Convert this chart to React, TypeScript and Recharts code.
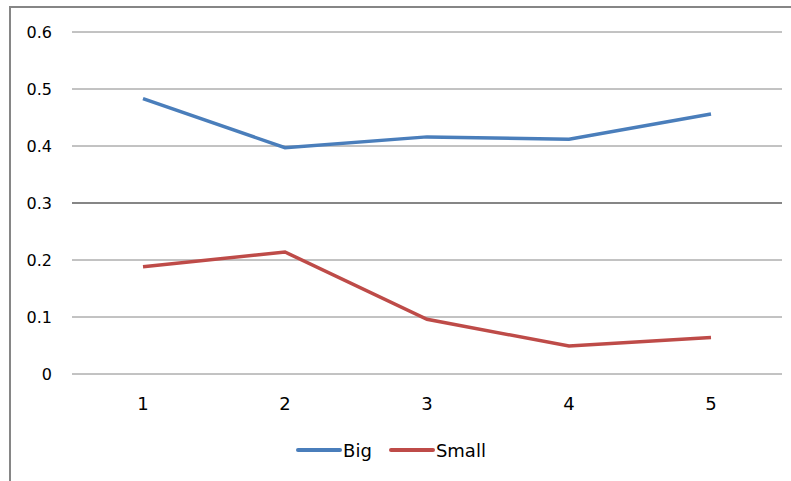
import React from 'react';
import { LineChart, Line, XAxis, YAxis, CartesianGrid, Legend, ReferenceLine } from 'recharts';

const categories = ['1', '2', '3', '4', '5'];
const bigValues = [0.483, 0.397, 0.416, 0.412, 0.456];
const smallValues = [0.188, 0.214, 0.096, 0.049, 0.064];
const yTicks = [0, 0.1, 0.2, 0.3, 0.4, 0.5, 0.6];

const data = categories.map((c, i) => ({ cat: c, Big: bigValues[i], Small: smallValues[i] }));

const FONT = '"DejaVu Sans", "Liberation Sans", sans-serif';
const GRID = '#868686';

const LegendContent = (props: any) => {
  const payload = props.payload || [];
  return (
    <div style={{ display: 'flex', justifyContent: 'center', alignItems: 'center', height: 30, fontFamily: FONT, fontSize: 18, color: '#000' }}>
      {payload.map((p: any, i: number) => (
        <div key={p.value} style={{ display: 'flex', alignItems: 'center', marginLeft: i === 0 ? 0 : 17 }}>
          <svg width={46} height={8} style={{ display: 'block' }}>
            <line x1={2} y1={4} x2={44} y2={4} stroke={p.color} strokeWidth={4} strokeLinecap="round" />
          </svg>
          <span style={{ marginLeft: 1 }}>{p.value}</span>
        </div>
      ))}
    </div>
  );
};

export default function App() {
  return (
    <div style={{ position: 'fixed', left: 0, top: 0, width: 791, height: 481, background: '#fff', overflow: 'hidden' }}>
      <LineChart
        width={791}
        height={481}
        data={data}
        margin={{ top: 32, right: 9, bottom: 16, left: 0 }}
        style={{ position: 'absolute', left: 0, top: 0 }}
      >
        <CartesianGrid vertical={false} stroke={GRID} strokeWidth={1} />
        <ReferenceLine y={0.3} stroke={GRID} strokeWidth={2} />
        <XAxis
          dataKey="cat"
          axisLine={false}
          tickLine={false}
          tickSize={0}
          tickMargin={23}
          height={61}
          padding={{ left: 71, right: 71 }}
          tick={{ fill: '#000', fontSize: 18, fontFamily: FONT }}
        />
        <YAxis
          domain={[0, 0.6]}
          ticks={yTicks}
          width={72}
          axisLine={false}
          tickLine={false}
          tickSize={0}
          tickMargin={20}
          tick={{ fill: '#000', fontSize: 16, fontFamily: FONT }}
        />
        <Legend verticalAlign="bottom" height={30} content={<LegendContent />} />
        <Line type="linear" dataKey="Big" stroke="#4A7EBB" strokeWidth={3.5} dot={false} isAnimationActive={false} />
        <Line type="linear" dataKey="Small" stroke="#BE4B48" strokeWidth={3.5} dot={false} isAnimationActive={false} />
      </LineChart>
      {/* outer frame: left and top edges */}
      <div style={{ position: 'absolute', left: 9, top: 6, width: 782, height: 2, background: GRID, zIndex: 2 }} />
      <div style={{ position: 'absolute', left: 9, top: 6, width: 2, height: 475, background: GRID, zIndex: 2 }} />
    </div>
  );
}
